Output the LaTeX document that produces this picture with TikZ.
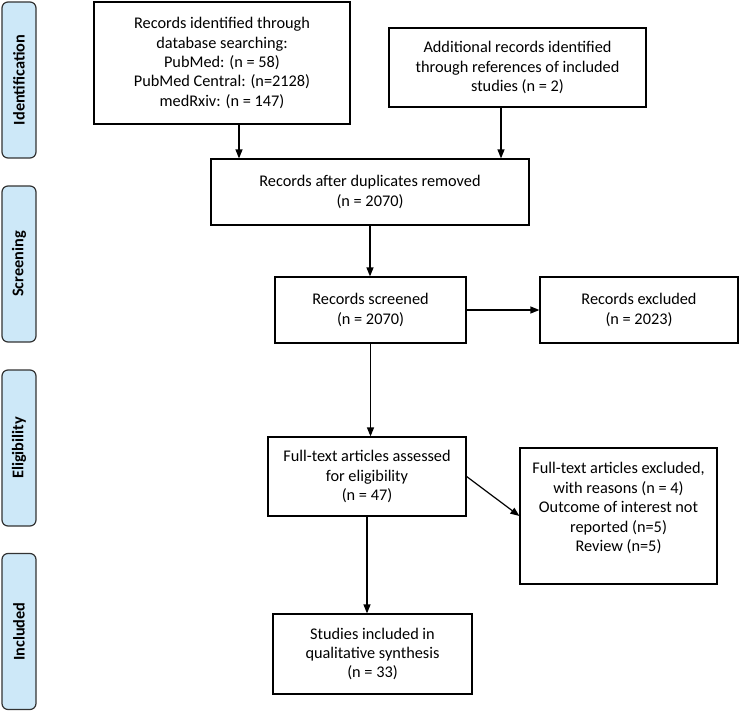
\documentclass[tikz,border=0pt]{standalone}
\usepackage{fontspec}
\setmainfont{Carlito}
\usetikzlibrary{arrows.meta,positioning}

\definecolor{phasefill}{HTML}{CDE8F8}

\begin{document}
\begin{tikzpicture}[x=1pt,y=-1pt,>={Triangle[length=9pt,width=7pt]},
  every node/.style={font=\fontsize{16.3}{19.4}\selectfont},
  flowbox/.style={draw,line width=1.2pt,align=center,inner sep=0pt,
    minimum width=#1},
  phase/.style={draw=black!80,fill=phasefill,line width=1.2pt,rounded corners=6pt,
    minimum width=156pt,minimum height=34pt,rotate=90,
    font=\fontsize{16.3}{19.4}\selectfont\bfseries},
  link/.style={->,line width=1.2pt}]
\useasboundingbox (0,0) rectangle (740,713);

% phases on the left
\node[phase] (ph1) at (19,80)    {Identification};
\node[phase] (ph2) at (19,264)   {Screening};
\node[phase] (ph3) at (19,448)   {Eligibility};
\node[phase] (ph4) at (19,631.5) {Included};

% boxes
\node[flowbox=256pt,minimum height=122pt] (db)  at (222,63)
  {Records identified through\\database searching:\\PubMed: (n = 58)\\PubMed Central: (n=2128)\\medRxiv: (n = 147)};
\node[flowbox=257pt,minimum height=79pt]  (ref) at (517.5,67.5)
  {Additional records identified\\through references of included\\studies (n = 2)};
\node[flowbox=318pt,minimum height=66pt]  (dup) at (370,192)
  {Records after duplicates removed\\(n = 2070)};
\node[flowbox=191pt,minimum height=66pt]  (scr) at (370.5,310)
  {Records screened\\(n = 2070)};
\node[flowbox=198pt,minimum height=66pt]  (exc) at (639,310)
  {Records excluded\\(n = 2023)};
\node[flowbox=198pt,minimum height=79pt]  (full) at (367,476.5)
  {Full-text articles assessed\\for eligibility\\(n = 47)};
\node[flowbox=197pt,minimum height=136pt,text depth=18pt] (fexc) at (618.5,516)
  {Full-text articles excluded,\\with reasons (n = 4)\\Outcome of interest not\\reported (n=5)\\Review (n=5)};
\node[flowbox=199pt,minimum height=80pt]  (inc) at (372.5,654)
  {Studies included in\\qualitative synthesis\\(n = 33)};

% connectors
\draw[link] ([xshift=17pt]db.south) -- ([xshift=17pt]db.south |- dup.north);
\draw[link] ([xshift=-16.5pt]ref.south) -- ([xshift=-16.5pt]ref.south |- dup.north);
\draw[link] (dup.south) -- (dup.south |- scr.north);
\draw[link] (scr.east) -- (scr.east -| exc.west);
\draw[link] (scr.south) -- (scr.south |- full.north);
\draw[link] (full.east) -- (fexc.west);
\draw[link] (full.south) -- (full.south |- inc.north);
\end{tikzpicture}
\end{document}
